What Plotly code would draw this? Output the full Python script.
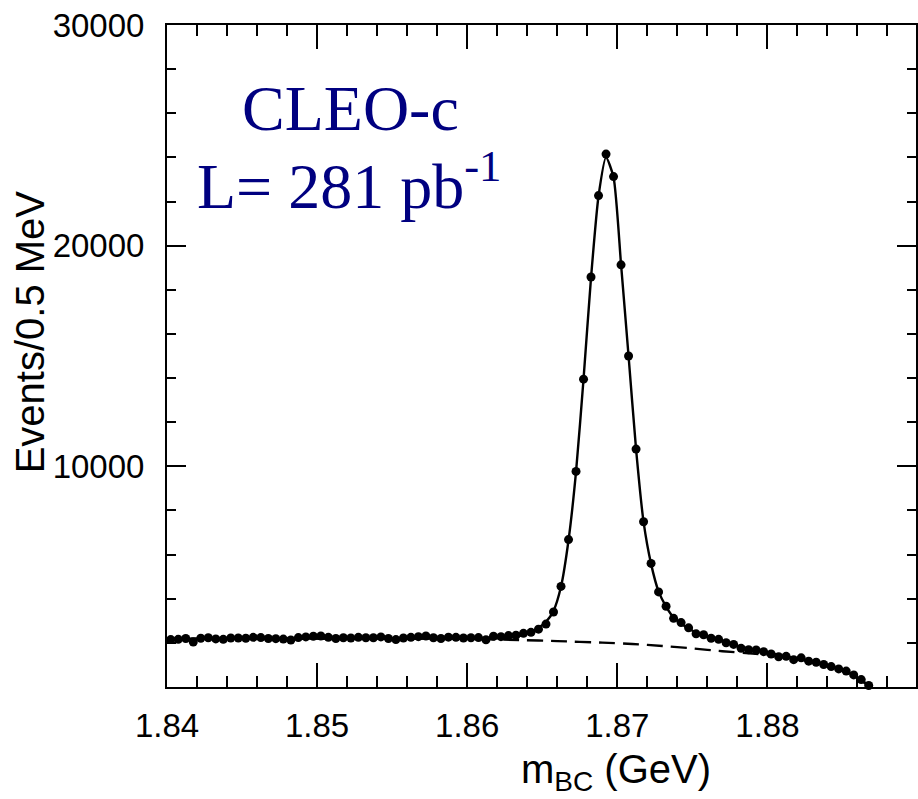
import plotly.graph_objects as go

# ---------------- data ----------------
bin_lo = 1.840
bin_width = 0.0005
counts = [
    2150, 2160, 2200, 2040, 2210, 2230, 2180, 2160, 2220, 2220,
    2210, 2250, 2240, 2200, 2190, 2170, 2130, 2240, 2270, 2300,
    2310, 2250, 2200, 2230, 2220, 2250, 2230, 2230, 2270, 2200,
    2150, 2220, 2250, 2280, 2310, 2230, 2200, 2260, 2250, 2220,
    2230, 2240, 2140, 2300, 2280, 2330, 2350,
    2433, 2478, 2620, 2850, 3400, 4560, 6680, 9770, 13950, 18580,
    22270, 24150, 23130, 19130, 15000, 10780, 7490, 5600, 4310, 3660,
    3110, 2920, 2680, 2410, 2370, 2207, 2161, 2007, 1930, 1753,
    1690, 1676, 1600, 1495, 1373, 1390, 1240, 1320, 1170, 1120,
    1020, 925, 820, 720, 547, 336, 70,
]
mbc = [round(bin_lo + bin_width * (k + 0.5), 5) for k in range(len(counts))]

fit_x = [1.8400, 1.8500, 1.8600, 1.86275, 1.86325, 1.86375, 1.86425, 1.86475,
         1.86525, 1.86575, 1.86625, 1.86675, 1.86725, 1.86775, 1.86825, 1.86875,
         1.86925, 1.86975, 1.87025, 1.87075, 1.87125, 1.87175, 1.87225, 1.87275,
         1.87325, 1.87375, 1.87425, 1.87475, 1.87525, 1.87575, 1.87675, 1.87775,
         1.87875, 1.87975, 1.8810, 1.8820, 1.8830, 1.8840, 1.8850, 1.8855,
         1.8860, 1.8865, 1.8868]
fit_y = [2190, 2200, 2200, 2230, 2270, 2370, 2500, 2680,
         2950, 3450, 4550, 6650, 9750, 13950, 18550, 22250,
         24000, 23100, 19150, 15000, 10780, 7480, 5580, 4330,
         3640, 3150, 2880, 2650, 2470, 2330, 2120, 1920,
         1740, 1600, 1420, 1280, 1150, 990, 770, 630,
         430, 170, 0]

bg_x = [1.8400, 1.8500, 1.8600, 1.8635, 1.8660, 1.8690, 1.8710, 1.8730, 1.8750,
        1.8770, 1.8790, 1.8800, 1.8820, 1.8840, 1.8850, 1.8860, 1.8865, 1.8868]
bg_y = [2190, 2200, 2180, 2130, 2080, 2010, 1950, 1860, 1750,
        1620, 1520, 1450, 1280, 1000, 780, 460, 200, 0]

x_ticks = [1.84, 1.85, 1.86, 1.87, 1.88]
y_ticks = [10000, 20000, 30000]

# ---------------- figure ----------------
fig = go.Figure()
fig.add_trace(go.Scatter(x=bg_x, y=bg_y, mode="lines",
                         line=dict(color="black", width=2.4, dash="16px,8px", shape="spline", smoothing=0.6),
                         hoverinfo="skip"))
fig.add_trace(go.Scatter(x=fit_x, y=fit_y, mode="lines",
                         line=dict(color="black", width=2.4, shape="spline", smoothing=0.6),
                         hoverinfo="skip"))
fig.add_trace(go.Scatter(x=mbc, y=counts, mode="markers",
                         marker=dict(color="black", size=9), cliponaxis=False))

W, H = 918, 799
L, R, T, B = 167, 0, 25, 112
pw, ph = W - L - R, H - T - B

def px_x(px):
    return (px - L) / pw

def px_y(py):
    return (H - B - py) / ph

fig.update_layout(
    width=W, height=H,
    margin=dict(l=L, r=R, t=T, b=B, pad=0),
    plot_bgcolor="white", paper_bgcolor="white",
    showlegend=False,
    font=dict(family="Liberation Sans, Arial, sans-serif", color="black"),
)
fig.update_xaxes(
    range=[1.84, 1.8899], tickmode="array", tickvals=x_ticks, tickformat=".2f",
    ticks="inside", ticklen=24, tickwidth=2, tickcolor="black",
    showline=True, linewidth=2, linecolor="black", mirror="ticks",
    showgrid=False, zeroline=False,
    tickfont=dict(size=33), ticklabelstandoff=8,
    minor=dict(ticks="inside", ticklen=11, tickwidth=2, tickcolor="black",
               tickmode="linear", tick0=1.84, dtick=0.002, showgrid=False),
)
fig.update_yaxes(
    range=[0, 30000], tickmode="array", tickvals=y_ticks, tickformat="d",
    ticks="inside", ticklen=19, tickwidth=2, tickcolor="black",
    showline=True, linewidth=2, linecolor="black", mirror="ticks",
    showgrid=False, zeroline=False,
    tickfont=dict(size=33), ticklabelstandoff=14,
    minor=dict(ticks="inside", ticklen=9, tickwidth=2, tickcolor="black",
               tickmode="linear", tick0=0, dtick=2000, showgrid=False),
)

navy = "#000080"
fig.add_annotation(xref="paper", yref="paper", x=px_x(351), y=px_y(108),
                   text="CLEO-c", showarrow=False, xanchor="center", yanchor="middle",
                   font=dict(family="Liberation Serif, Times New Roman, serif", size=64, color=navy))
fig.add_annotation(xref="paper", yref="paper", x=px_x(350), y=px_y(181),
                   text="L= 281 pb<sup>-1</sup>", showarrow=False, xanchor="center", yanchor="middle",
                   font=dict(family="Liberation Serif, Times New Roman, serif", size=64, color=navy))
fig.add_annotation(xref="paper", yref="paper", x=px_x(30), y=px_y(332),
                   text="Events/0.5 MeV", showarrow=False, textangle=-90,
                   xanchor="center", yanchor="middle",
                   font=dict(size=40))
fig.add_annotation(xref="paper", yref="paper", x=px_x(617), y=px_y(772),
                   text="m<sub>BC</sub> (GeV)", showarrow=False,
                   xanchor="center", yanchor="middle",
                   font=dict(size=40))

fig.write_html("out.html")
